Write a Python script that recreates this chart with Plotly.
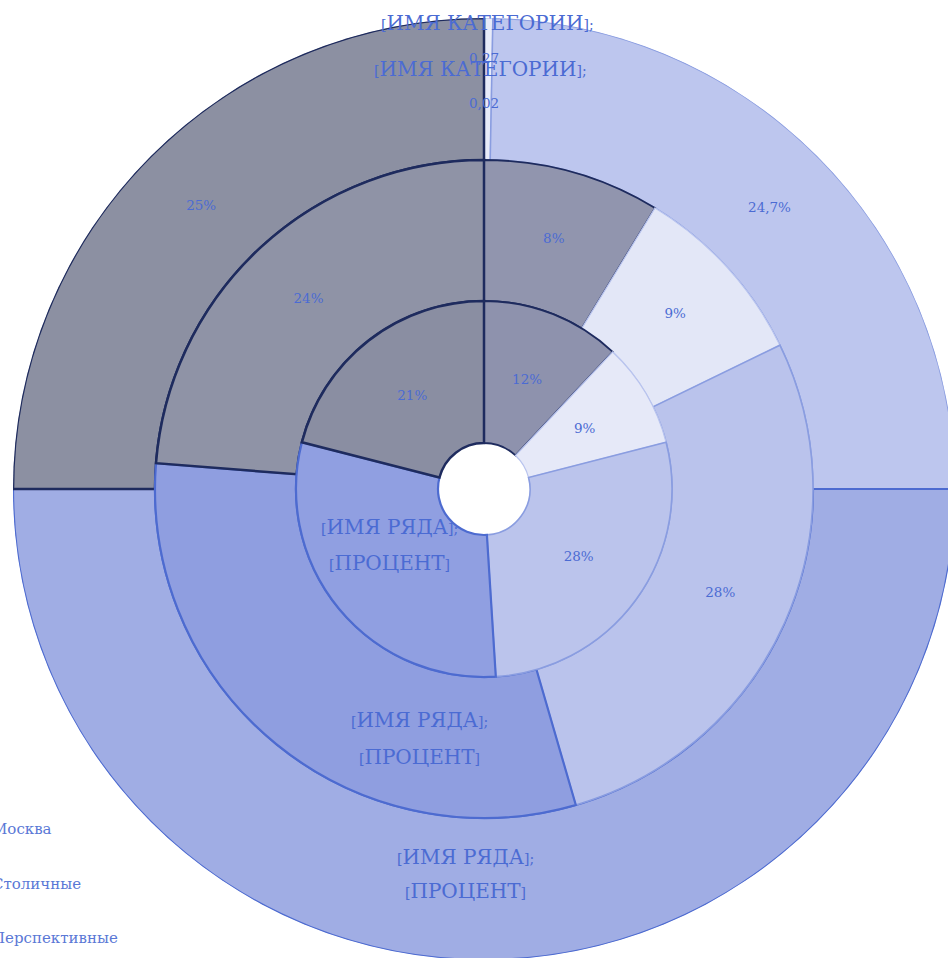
import plotly.graph_objects as go

# ---------------- data ----------------
series_names = ["Перспективные", "Столичные", "Москва"]   # outer, middle, inner ring
legend_rank = [3, 2, 1]
outer_values = [0.3, 24.7, 50.0, 25.0]
middle_values = [8.7, 9.1, 27.7, 30.75, 23.75]
inner_values = [12.0, 9.0, 28.0, 30.0, 21.0]
outer_labels = ["", "24,7%", "", "25%"]
middle_labels = ["8%", "9%", "28%", "", "24%"]
inner_labels = ["12%", "9%", "28%", "", "21%"]
category_labels = ["[ИМЯ КАТЕГОРИИ];", "0,27", "[ИМЯ КАТЕГОРИИ];", "0,02"]
series_label_lines = ["[ИМЯ РЯДА];", "[ПРОЦЕНТ]"]

# ---------------- style ----------------
W, H = 960, 970
CX, CY = 484, 489          # centre in pixels
R_EDGES = [46, 188, 329, 471]
TXT = "#4B6BD3"
FONT = "DejaVu Serif"
BIG, SMALL, PCT = 20, 14, 13.5

GRAY, GRAYBLUE, WHITE, LBLUE, BLUE = "gray", "grayblue", "white", "lblue", "blue"
line_style = {
    GRAY: ("#1E2B5E", 2.5),
    GRAYBLUE: ("#1E2B5E", 1.8),
    WHITE: ("#B9C4EE", 1.2),
    LBLUE: ("#8A9DE0", 1.6),
    BLUE: ("#4D6BD0", 2.2),
}
rings = [
    # name, values, labels, kinds, fills, r_in, r_out
    (series_names[0], outer_values, outer_labels,
     [WHITE, LBLUE, BLUE, GRAY],
     ["#E8EBF9", "#BDC6EE", "#A0ADE4", "#8C90A2"], R_EDGES[2], R_EDGES[3]),
    (series_names[1], middle_values, middle_labels,
     [GRAYBLUE, WHITE, LBLUE, BLUE, GRAY],
     ["#9195AE", "#E3E7F7", "#BAC3EC", "#8F9EE0", "#8F93A6"], R_EDGES[1], R_EDGES[2]),
    (series_names[2], inner_values, inner_labels,
     [GRAYBLUE, WHITE, LBLUE, BLUE, GRAY],
     ["#8E92AD", "#E6E9F8", "#BBC4EC", "#909FE1", "#8A8EA2"], R_EDGES[0], R_EDGES[1]),
]

fig = go.Figure()

for i, (name, vals, labs, kinds, fills, r_in, r_out) in enumerate(rings):
    total = sum(vals)
    cum, thetas, widths = 0.0, [], []
    for v in vals:
        thetas.append((cum + v / 2) / total * 360)
        widths.append(v / total * 360)
        cum += v
    fig.add_trace(go.Barpolar(
        name=name, legendgroup=name, legendrank=legend_rank[i],
        theta=thetas, width=widths,
        r=[r_out - r_in] * len(vals), base=[r_in] * len(vals),
        marker=dict(color=fills,
                    line=dict(color=[line_style[k][0] for k in kinds],
                              width=[line_style[k][1] for k in kinds])),
        hoverinfo="skip",
    ))
    fig.add_trace(go.Scatterpolar(
        theta=thetas, r=[(r_in + r_out) / 2] * len(vals),
        mode="text", text=labs,
        textfont=dict(family=FONT, size=PCT, color=TXT),
        showlegend=False, hoverinfo="skip", cliponaxis=False,
    ))


def px(x):
    return x / W


def py(y):
    return 1 - y / H


def rich(s, small=SMALL):
    out = ""
    for ch in s:
        if ch in "[];":
            out += f'<span style="font-size:{small}px">{ch}</span>'
        else:
            out += ch
    return out


annotations = []
# series-name labels of the blue slices (outer, middle, inner)
for (x, y1, y2) in [(465, 857, 891), (419, 720, 757), (389, 527, 563)]:
    for txt, yy in zip(series_label_lines, (y1, y2)):
        annotations.append(dict(x=px(x), y=py(yy), xref="paper", yref="paper",
                                xanchor="center", yanchor="middle",
                                text=rich(txt), showarrow=False,
                                font=dict(family=FONT, size=BIG, color=TXT)))
# category labels at the top
for txt, x, y, size in [(category_labels[0], 487, 23, BIG), (category_labels[1], 484, 58, PCT),
                        (category_labels[2], 480, 69, BIG), (category_labels[3], 484, 103, PCT)]:
    annotations.append(dict(x=px(x), y=py(y), xref="paper", yref="paper",
                            xanchor="center", yanchor="middle",
                            text=rich(txt) if size == BIG else txt, showarrow=False,
                            font=dict(family=FONT, size=size, color=TXT)))

fig.update_layout(
    width=W, height=H,
    margin=dict(l=0, r=0, t=0, b=0, autoexpand=False),
    paper_bgcolor="white",
    polar=dict(
        domain=dict(x=[px(CX - R_EDGES[3]), px(CX + R_EDGES[3])],
                    y=[py(CY + R_EDGES[3]), py(CY - R_EDGES[3])]),
        bgcolor="rgba(0,0,0,0)",
        radialaxis=dict(range=[0, R_EDGES[3]], visible=False),
        angularaxis=dict(visible=False, rotation=90, direction="clockwise"),
        barmode="overlay",
    ),
    showlegend=True,
    legend=dict(x=-48 / W, xanchor="left", y=py(812), yanchor="top",
                traceorder="grouped", tracegroupgap=32,
                font=dict(family=FONT, size=15, color="#5A78D6"),
                bgcolor="rgba(0,0,0,0)"),
    annotations=annotations,
)

fig.write_html("out.html", config={"displayModeBar": False},
               post_script="document.documentElement.style.overflow='hidden';"
                           "document.body.style.overflow='hidden';document.body.style.margin='0';")
